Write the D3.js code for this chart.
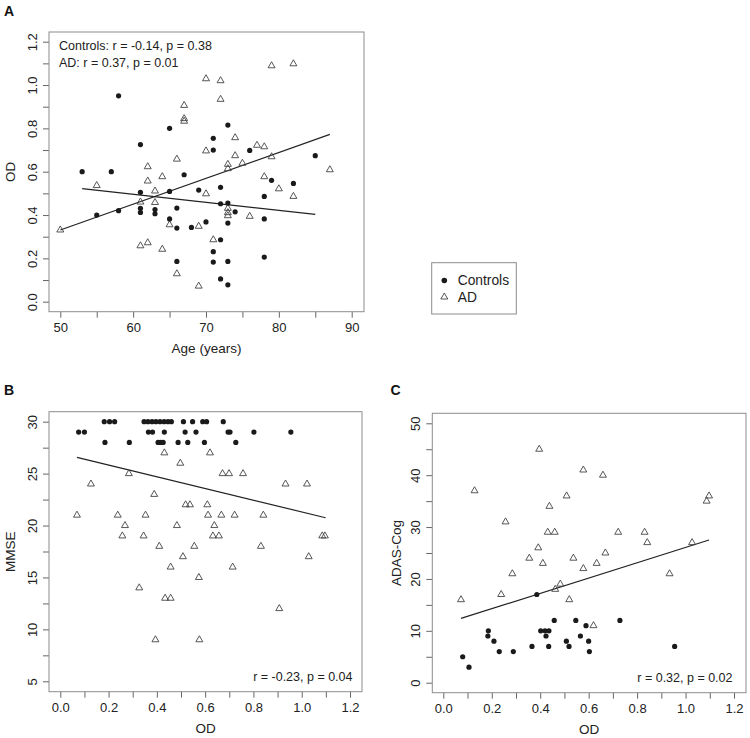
<!DOCTYPE html>
<html>
<head>
<meta charset="utf-8">
<script src="https://cdn.jsdelivr.net/npm/d3@7"></script>
<style>
  body { margin: 0; background: #fff; }
  svg { font-family: "Liberation Sans", Arial, sans-serif; }
</style>
</head>
<body>
<div id="chart"></div>
<script>
// panel A: age vs OD
var ageCtrl = [53,57,58,61,65,67,71,71,73,76,85,79,82,61,65,69,72,78,55,58,61,61,63,63,65,66,66,68,70,72,73,73,74,78,72,71,71,66,73,78,72,73];
var odCtrlA = [0.60,0.60,0.95,0.725,0.80,0.586,0.754,0.70,0.815,0.698,0.674,0.56,0.546,0.505,0.509,0.515,0.528,0.486,0.40,0.42,0.431,0.412,0.425,0.406,0.382,0.432,0.34,0.343,0.368,0.452,0.455,0.363,0.415,0.382,0.286,0.231,0.183,0.186,0.186,0.206,0.105,0.078];
var ageAd = [55,62,62,64,63,66,67,67,67,70,72,72,70,74,74,73,73,75,77,78,79,79,82,78,80,82,87,70,50,61,63,73,73,73,76,65,69,71,61,62,64,66,69];
var odAdA = [0.536,0.623,0.557,0.577,0.511,0.658,0.906,0.845,0.833,1.029,1.02,0.934,0.696,0.757,0.674,0.634,0.614,0.639,0.722,0.715,0.669,1.089,1.098,0.577,0.521,0.486,0.609,0.498,0.331,0.46,0.458,0.431,0.411,0.397,0.394,0.355,0.348,0.286,0.258,0.272,0.242,0.129,0.072];
var fitCtrlA = [[53,0.522],[85,0.403]];
var fitAdA = [[50,0.331],[87,0.772]];

// panel B: OD vs MMSE
var odCtrlB = [0.182,0.204,0.225,0.347,0.363,0.380,0.396,0.413,0.430,0.446,0.460,0.510,0.548,0.590,0.606,0.675,
               0.076,0.100,0.365,0.382,0.431,0.517,0.562,0.695,0.703,0.802,0.955,
               0.185,0.286,0.405,0.415,0.426,0.488,0.528,0.597,0.727];
var mmseCtrl = [30,30,30,30,30,30,30,30,30,30,30,30,30,30,30,30,
                29,29,29,29,29,29,29,29,29,29,29,
                28,28,28,28,28,28,28,28,28];
var odAdB = [0.431,0.62,0.497,0.284,0.672,0.699,0.757,0.127,0.933,1.022,0.389,0.519,0.537,0.609,0.069,0.238,0.353,0.612,0.667,0.722,0.841,0.268,0.483,0.638,0.257,0.345,0.632,0.657,1.085,1.096,0.41,0.555,0.831,0.508,1.029,0.457,0.714,0.574,0.327,0.434,0.457,0.907,0.394,0.576];
var mmseAd = [27,27,26,25,25,25,25,24,24,24,23,22,22,22,21,21,21,21,21,21,21,20,20,20,19,19,19,19,19,19,18,18,18,17,17,16,16,15,14,13,13,12,9,9];
var fitB = [[0.069,26.57],[1.099,20.75]];

// panel C: OD vs ADAS-Cog
var odCtrlC = [0.386,0.080,0.106,0.186,0.184,0.209,0.231,0.289,0.366,0.402,0.420,0.436,0.424,0.435,0.458,0.508,0.519,0.547,0.566,0.589,0.600,0.603,0.729,0.955];
var adasCtrl = [17,5,3,10,9,8,6,6,7,10,10,10,9,7,12,8,7,12,9,11,8,6,12,7];
var odAdC = [0.396,0.578,0.659,0.129,0.509,1.097,1.087,0.438,0.257,0.431,0.46,0.722,0.831,0.842,1.027,0.392,0.669,0.355,0.537,0.411,0.633,0.578,0.285,0.934,0.073,0.239,0.462,0.483,0.52,0.62];
var adasAd = [45,41,40,37,36,36,35,34,31,29,29,29,29,27,27,26,25,24,24,23,23,22,21,21,16,17,18,19,16,11];
var fitC = [[0.073,12.4],[1.097,27.5]];

var ticksAge = [50,55,60,65,70,75,80,85,90];
var ticksOd = d3.range(0, 13).map(function(i){ return i / 10; });
var ticksMmse = [5,7.5,10,12.5,15,17.5,20,22.5,25,27.5,30];
var ticksAdas = [0,5,10,15,20,25,30,35,40,45,50];

var svg = d3.select("#chart").append("svg")
    .attr("width", 750)
    .attr("height", 738);

function zip(a, b){ return a.map(function(v, i){ return [v, b[i]]; }); }

function panel(p) {
  var g = svg.append("g");
  var x = d3.scaleLinear().domain(p.xd).range(p.xr);
  var y = d3.scaleLinear().domain(p.yd).range(p.yr);

  // x axis
  var xa = g.append("g").attr("transform", "translate(0," + p.box[3] + ")")
      .call(d3.axisBottom(x).tickValues(p.xt).tickSize(6)
        .tickFormat(function(d){ return p.xlab(d) ? d3.format(p.xf)(d) : ""; }));
  xa.select(".domain").remove();
  xa.selectAll("line").attr("stroke", "#666");
  xa.selectAll("text").attr("y", 20).attr("dy", null)
      .attr("font-size", 13).attr("fill", "#222");

  // y axis, labels rotated like R
  var ya = g.append("g").attr("transform", "translate(" + p.box[0] + ",0)")
      .call(d3.axisLeft(y).tickValues(p.yt).tickSize(6)
        .tickFormat(function(d){ return p.ylab(d) ? d3.format(p.yf)(d) : ""; }));
  ya.select(".domain").remove();
  ya.selectAll("line").attr("stroke", "#666");
  ya.selectAll("text").attr("x", 0).attr("y", -12).attr("dy", null)
      .attr("transform", "rotate(-90)").attr("text-anchor", "middle")
      .attr("font-size", 13).attr("fill", "#222");

  g.append("rect")
      .attr("x", p.box[0]).attr("y", p.box[1])
      .attr("width", p.box[2] - p.box[0]).attr("height", p.box[3] - p.box[1])
      .attr("fill", "none").attr("stroke", "#8c8c8c");

  var line = d3.line().x(function(d){ return x(d[0]); }).y(function(d){ return y(d[1]); });
  p.fits.forEach(function(f){
    g.append("path").attr("d", line(f)).attr("fill", "none")
        .attr("stroke", "#222").attr("stroke-width", 1.2);
  });

  g.selectAll(".ad").data(p.ad).enter().append("path")
      .attr("d", d3.symbol(d3.symbolTriangle, 21))
      .attr("transform", function(d){ return "translate(" + x(d[0]) + "," + y(d[1]) + ")"; })
      .attr("fill", "none").attr("stroke", "#444").attr("stroke-width", 0.9);

  g.selectAll(".ctrl").data(p.ctrl).enter().append("circle")
      .attr("cx", function(d){ return x(d[0]); })
      .attr("cy", function(d){ return y(d[1]); })
      .attr("r", 2.6).attr("fill", "#1a1a1a");

  g.append("text").attr("x", (p.box[0] + p.box[2]) / 2).attr("y", p.box[3] + 41)
      .attr("text-anchor", "middle").attr("font-size", 13.5).attr("fill", "#222")
      .text(p.xtitle);
  g.append("text").attr("transform", "translate(" + p.ytx + "," + ((p.box[1] + p.box[3]) / 2) + ") rotate(-90)")
      .attr("text-anchor", "middle").attr("font-size", 13.5).attr("fill", "#222")
      .text(p.ytitle);
  g.append("text").attr("x", p.lx).attr("y", p.ly)
      .attr("font-size", 14).attr("font-weight", "bold").attr("fill", "#111")
      .text(p.letter);
  return g;
}

var gA = panel({
  letter: "A", lx: 4, ly: 16,
  box: [49, 32, 364, 311.7],
  xd: [50, 90], xr: [60.3, 351.7],
  yd: [0, 1.2], yr: [301.7, 41.7],
  xt: ticksAge, xlab: function(d){ return d % 10 === 0; }, xf: "d",
  yt: ticksOd, ylab: function(d){ return Math.round(d * 10) % 2 === 0; }, yf: ".1f",
  ctrl: zip(ageCtrl, odCtrlA), ad: zip(ageAd, odAdA),
  fits: [fitCtrlA, fitAdA],
  xtitle: "Age (years)", ytitle: "OD", ytx: 15
});
gA.append("text").attr("x", 59).attr("y", 49.5).attr("font-size", 12.5).attr("fill", "#222")
    .text("Controls: r = -0.14, p = 0.38");
gA.append("text").attr("x", 59).attr("y", 66.5).attr("font-size", 12.5).attr("fill", "#222")
    .text("AD: r = 0.37, p = 0.01");

var gB = panel({
  letter: "B", lx: 4, ly: 394.5,
  box: [49, 411.7, 362, 691.7],
  xd: [0, 1.2], xr: [60.3, 350],
  yd: [5, 30], yr: [681.3, 421.7],
  xt: ticksOd, xlab: function(d){ return Math.round(d * 10) % 2 === 0; }, xf: ".1f",
  yt: ticksMmse, ylab: function(d){ return d % 5 === 0; }, yf: "d",
  ctrl: zip(odCtrlB, mmseCtrl), ad: zip(odAdB, mmseAd),
  fits: [fitB],
  xtitle: "OD", ytitle: "MMSE", ytx: 15
});
gB.append("text").attr("x", 352.5).attr("y", 680.5).attr("text-anchor", "end")
    .attr("font-size", 12.5).attr("fill", "#222").text("r = -0.23, p = 0.04");

var gC = panel({
  letter: "C", lx: 390.5, ly: 394.5,
  box: [432.3, 413.3, 746, 692.7],
  xd: [0, 1.2], xr: [443.3, 734],
  yd: [0, 50], yr: [682.7, 423.3],
  xt: ticksOd, xlab: function(d){ return Math.round(d * 10) % 2 === 0; }, xf: ".1f",
  yt: ticksAdas, ylab: function(d){ return d % 10 === 0; }, yf: "d",
  ctrl: zip(odCtrlC, adasCtrl), ad: zip(odAdC, adasAd),
  fits: [fitC],
  xtitle: "OD", ytitle: "ADAS-Cog", ytx: 400.5
});
gC.append("text").attr("x", 732.5).attr("y", 681.5).attr("text-anchor", "end")
    .attr("font-size", 12.5).attr("fill", "#222").text("r = 0.32, p = 0.02");

// legend
var leg = svg.append("g");
leg.append("rect").attr("x", 431.7).attr("y", 262.7).attr("width", 84.6).attr("height", 51.3)
    .attr("fill", "none").attr("stroke", "#8c8c8c");
leg.append("circle").attr("cx", 444.3).attr("cy", 280.5).attr("r", 2.8).attr("fill", "#1a1a1a");
leg.append("path").attr("d", d3.symbol(d3.symbolTriangle, 21))
    .attr("transform", "translate(444.3,297)")
    .attr("fill", "none").attr("stroke", "#444").attr("stroke-width", 0.9);
leg.append("text").attr("x", 457.7).attr("y", 285.3).attr("font-size", 13.8).attr("fill", "#222").text("Controls");
leg.append("text").attr("x", 457.7).attr("y", 302.3).attr("font-size", 13.8).attr("fill", "#222").text("AD");
</script>
</body>
</html>
